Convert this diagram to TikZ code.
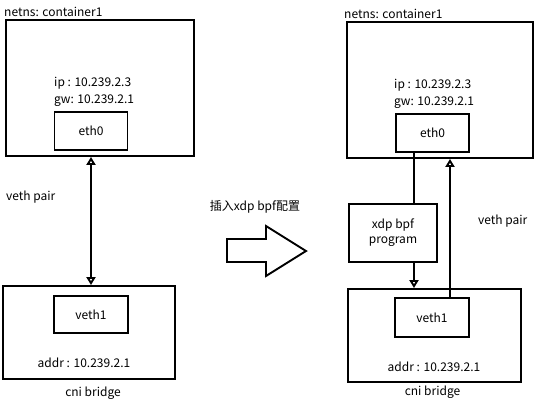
\documentclass[tikz,border=0pt]{standalone}
\usepackage{fontspec}
\setmainfont{Noto Sans CJK SC}
\usetikzlibrary{positioning,arrows.meta}

\begin{document}
\begin{tikzpicture}[x=1pt, y=-1pt,
    font=\fontsize{12}{15}\selectfont,
    boite/.style={draw, line width=1.9pt, inner sep=0pt},
    texte/.style={inner sep=0pt},
    trait/.style={line width=1.9pt},
    fleche/.style={trait, -{Triangle[open,length=8pt,width=9pt]}},
    fleches/.style={trait, {Triangle[open,length=8pt,width=9pt]}-{Triangle[open,length=8pt,width=9pt]}}]
              \useasboundingbox (0,0) rectangle (536,402);

              % Avant : container1 et cni bridge
                \node[boite, minimum width=188pt, minimum height=136pt] (ctnA) at (100,88) {};
                \node[boite, minimum width=73pt, minimum height=38pt] (eth0A) at (91,131) {eth0};
                \node[boite, minimum width=172pt, minimum height=93pt] (brA) at (89,332.5) {};
                \node[boite, minimum width=74pt, minimum height=37pt] (veth1A) at (91,314.5) {veth1};

                \node[texte, anchor=west] (nsA) at (4,12) {netns: container1};
                \node[texte, anchor=west, align=left, font=\fontsize{12}{17}\selectfont] (ipA) at (54,91.5) {ip : 10.239.2.3\\gw: 10.239.2.1};
                \node[texte, anchor=west] (pairA) at (6,197) {veth pair};
                \node[texte] (addrA) at (84,363) {addr : 10.239.2.1};
                \node[texte] (cniA) at (93,393) {cni bridge};

              % La grosse flèche
                \node[texte] (insert) at (255,207) {插入xdp bpf配置};
                \draw[trait] (227,239) -- (266,239) -- (266,226) -- (306,251) -- (266,276) -- (266,262) -- (227,262) -- cycle;

              % Après : avec le programme xdp
                \node[boite, minimum width=186pt, minimum height=136pt] (ctnB) at (440,90) {};
                \node[boite, minimum width=73pt, minimum height=38pt] (eth0B) at (432.5,133) {eth0};
                \node[boite, minimum width=88pt, minimum height=58pt, align=center] (xdp) at (393,233) {xdp bpf\\program};
                \node[boite, minimum width=173pt, minimum height=93pt] (brB) at (434.5,335.5) {};
                \node[boite, minimum width=74pt, minimum height=39pt] (veth1B) at (432,317.5) {veth1};

                \node[texte, anchor=west] (nsB) at (344,14) {netns: container1};
                \node[texte, anchor=west, align=left, font=\fontsize{12}{17}\selectfont] (ipB) at (394,94) {ip : 10.239.2.3\\gw: 10.239.2.1};
                \node[texte, anchor=west] (pairB) at (478,221) {veth pair};
                \node[texte] (addrB) at (434,367) {addr : 10.239.2.1};
                \node[texte] (cniB) at (432.5,392) {cni bridge};

              % Les liaisons
              \draw[fleches] (eth0A |- ctnA.south) -- (eth0A |- brA.north);
              \draw[trait] ([xshift=-18.5pt]eth0B.south) -- ([xshift=-18.5pt]eth0B.south |- xdp.north);
              \draw[fleche] ([xshift=-18.5pt]eth0B.south |- xdp.south) -- ([xshift=-18.5pt]eth0B.south |- brB.north);
              \draw[fleche] ([xshift=17.5pt]eth0B.south |- veth1B.north) -- ([xshift=17.5pt]eth0B.south |- ctnB.south);
            \end{tikzpicture}
\end{document}
